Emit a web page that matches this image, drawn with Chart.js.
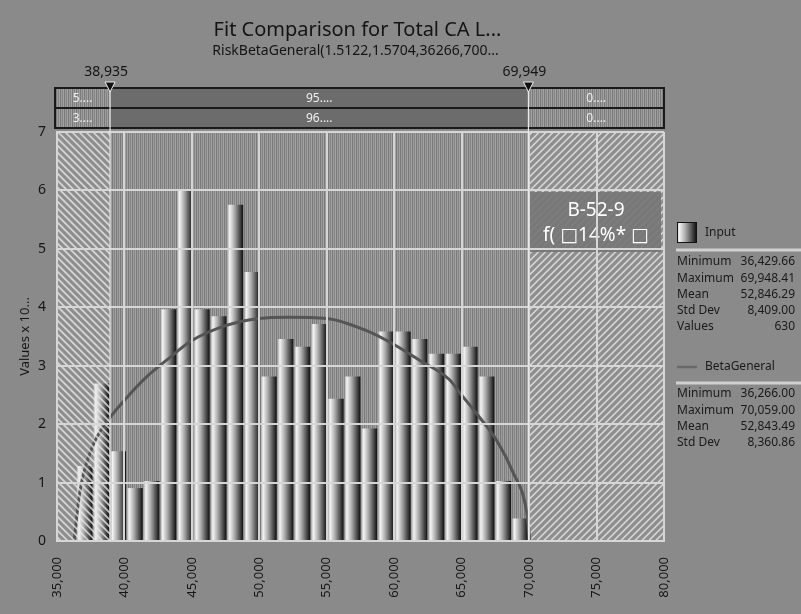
<!DOCTYPE html>
<html><head><meta charset="utf-8">
<script src="https://cdn.jsdelivr.net/npm/chart.js@4"></script>
<style>html,body{margin:0;padding:0;background:#8a8a8a}canvas{display:block}</style>
</head><body>
<div style="width:801px;height:614px"><canvas id="c" width="801" height="614"></canvas></div>
<script>
// ---- data ----
const binCenters = [37050, 38292, 39533, 40775, 42016, 43258, 44499, 45740, 46982, 48223, 49465, 50706, 51948, 53189, 54430, 55672, 56913, 58155, 59396, 60638, 61879, 63121, 64362, 65603, 66845, 68086, 69328];
const inputDensity = [1.28, 2.69, 1.53, 0.90, 1.02, 3.96, 6.01, 3.96, 3.84, 5.75, 4.60, 2.81, 3.45, 3.32, 3.71, 2.43, 2.81, 1.92, 3.58, 3.58, 3.45, 3.20, 3.20, 3.32, 2.81, 1.02, 0.38];
const fitX = [36266, 36700, 37600, 38860, 40120, 41600, 43100, 45000, 47550, 50000, 52200, 55000, 57950, 59850, 61900, 64100, 64850, 66350, 67600, 68800, 69800, 70059];
const fitY = [0, 0.85, 1.60, 2.09, 2.44, 2.80, 3.09, 3.43, 3.69, 3.81, 3.83, 3.81, 3.60, 3.38, 3.09, 2.76, 2.54, 2.11, 1.72, 1.18, 0.52, 0];
const xTickValues = [35000, 40000, 45000, 50000, 55000, 60000, 65000, 70000, 75000, 80000];
const yTickValues = [0, 1, 2, 3, 4, 5, 6, 7];
const markerValues = [38935, 69949];
const markerLabels = ['38,935', '69,949'];
const bandRow1 = ['5....', '95....', '0....'];
const bandRow2 = ['3....', '96....', '0....'];
const titleText = 'Fit Comparison for Total CA L...';
const subtitleText = 'RiskBetaGeneral(1.5122,1.5704,36266,700...';
const yTitleText = 'Values x 10...';
const overlayLines = ['B-52-9', 'f( \u25A114%* \u25A1'];
const inputName = 'Input';
const inputStatLabels = ['Minimum', 'Maximum', 'Mean', 'Std Dev', 'Values'];
const inputStatValues = ['36,429.66', '69,948.41', '52,846.29', '8,409.00', '630'];
const fitName = 'BetaGeneral';
const fitStatLabels = ['Minimum', 'Maximum', 'Mean', 'Std Dev'];
const fitStatValues = ['36,266.00', '70,059.00', '52,843.49', '8,360.86'];

const FONT = "'Noto Sans', 'DejaVu Sans', sans-serif";

function barGradient(g) {
  g.addColorStop(0, '#b8b8b8');
  g.addColorStop(0.12, '#f4f4f4');
  g.addColorStop(0.45, '#a8a8a8');
  g.addColorStop(0.8, '#4a4a4a');
  g.addColorStop(1, '#141414');
  return g;
}

function stripePattern(ctx) {
  const off = document.createElement('canvas');
  off.width = 4; off.height = 4;
  const o = off.getContext('2d');
  const cols = ['#7a7a7a', '#9c9c9c', '#848484', '#a2a2a2'];
  for (let i = 0; i < 4; i++) { o.fillStyle = cols[i]; o.fillRect(i, 0, 1, 4); }
  return ctx.createPattern(off, 'repeat');
}

function hatch(c, x0, y0, x1, y1, dir) {
  c.save();
  c.beginPath(); c.rect(x0, y0, x1 - x0, y1 - y0); c.clip();
  c.strokeStyle = 'rgba(232,232,232,0.8)';
  c.lineWidth = 1.6;
  const h = y1 - y0;
  for (let s = x0 - h - 10; s < x1 + h + 10; s += 7) {
    c.beginPath();
    if (dir > 0) { c.moveTo(s, y1); c.lineTo(s + h, y0); }
    else { c.moveTo(s, y0); c.lineTo(s + h, y1); }
    c.stroke();
  }
  c.restore();
}

const decor = {
  id: 'decor',
  beforeDraw(chart) {
    const c = chart.ctx;
    c.save();
    c.fillStyle = '#8a8a8a';
    c.fillRect(0, 0, chart.width, chart.height);
    c.restore();
  },
  beforeDatasetsDraw(chart) {
    const c = chart.ctx, a = chart.chartArea, xs = chart.scales.x;
    const m0 = xs.getPixelForValue(markerValues[0]), m1 = xs.getPixelForValue(markerValues[1]);
    c.save();
    c.fillStyle = '#8e8e8e';
    c.fillRect(a.left, a.top, a.right - a.left, a.bottom - a.top);
    c.fillStyle = stripePattern(c);
    c.fillRect(m0, a.top, m1 - m0, a.bottom - a.top);
    c.restore();
    hatch(chart.ctx, m1, a.top, a.right, a.bottom, 1);
  },
  afterDatasetsDraw(chart) {
    const c = chart.ctx, a = chart.chartArea, xs = chart.scales.x;
    const m0 = xs.getPixelForValue(markerValues[0]);
    hatch(c, a.left, a.top, m0, a.bottom, -1);
    // overlay box
    c.save();
    c.fillStyle = 'rgba(118,118,118,0.92)';
    c.fillRect(530, 192, 131, 60);
    c.fillStyle = '#ffffff';
    c.textAlign = 'center'; c.textBaseline = 'middle';
    c.font = '19px ' + FONT;
    c.fillText(overlayLines[0], 596, 211);
    c.fillText(overlayLines[1], 596, 236);
    c.restore();
  },
  afterDraw(chart) {
    const c = chart.ctx, a = chart.chartArea, xs = chart.scales.x;
    const mx = markerValues.map(v => xs.getPixelForValue(v));
    const cx = (a.left + a.right) / 2;
    c.save();
    // titles
    c.fillStyle = '#141414';
    c.textAlign = 'center'; c.textBaseline = 'middle';
    c.font = '20px ' + FONT;
    c.fillText(titleText, cx - 3, 30);
    c.font = '14px ' + FONT;
    c.fillText(subtitleText, cx - 5, 51);
    // band
    const bl = a.left - 2, br = a.right;
    const rows = [[88, 108, bandRow1], [108, 128, bandRow2]];
    rows.forEach(([t, b, labels]) => {
      const segs = [[bl, mx[0]], [mx[0], mx[1]], [mx[1], br]];
      segs.forEach(([l, r], i) => {
        if (i === 1) { c.fillStyle = '#6c6c6c'; c.fillRect(l, t, r - l, b - t); }
        else { c.fillStyle = stripePattern(c); c.fillRect(l, t, r - l, b - t); }
        c.fillStyle = '#f0f0f0';
        c.font = '12px ' + FONT;
        c.textAlign = 'center';
        c.fillText(labels[i], (l + r) / 2, (t + b) / 2 + 1);
      });
      c.strokeStyle = '#1a1a1a'; c.lineWidth = 2;
      c.strokeRect(bl, t, br - bl, b - t);
    });
    // marker lines, triangles, labels
    mx.forEach((x, i) => {
      c.strokeStyle = '#e8e8e8'; c.lineWidth = 1.2;
      c.beginPath(); c.moveTo(x, 86); c.lineTo(x, a.bottom); c.stroke();
      c.beginPath(); c.moveTo(x - 5, 82); c.lineTo(x + 5, 82); c.lineTo(x, 92); c.closePath();
      c.fillStyle = '#111'; c.fill();
      c.strokeStyle = '#f0f0f0'; c.lineWidth = 1; c.stroke();
      c.fillStyle = '#141414'; c.font = '14px ' + FONT; c.textAlign = 'center';
      c.fillText(markerLabels[i], x - 4, 72);
    });
    // legend
    const lx = 677, rx = 795;
    const g = barGradient(c.createLinearGradient(677, 0, 696, 0));
    c.fillStyle = g; c.fillRect(677, 222, 19, 20);
    c.strokeStyle = '#111'; c.lineWidth = 1; c.strokeRect(677.5, 222.5, 19, 20);
    c.fillStyle = '#1a1a1a'; c.font = '12px ' + FONT; c.textAlign = 'left';
    c.fillText(inputName, 705, 233);
    c.strokeStyle = '#d0d0d0'; c.lineWidth = 3;
    c.beginPath(); c.moveTo(676, 250); c.lineTo(801, 250); c.stroke();
    inputStatLabels.forEach((l, i) => {
      const y = 262 + i * 16.2;
      c.fillStyle = '#1a1a1a'; c.textAlign = 'left'; c.fillText(l, lx, y);
      c.textAlign = 'right'; c.fillText(inputStatValues[i], rx, y);
    });
    c.strokeStyle = '#6a6a6a'; c.lineWidth = 2.5;
    c.beginPath(); c.moveTo(677, 367); c.lineTo(697, 367); c.stroke();
    c.fillStyle = '#1a1a1a'; c.textAlign = 'left'; c.fillText(fitName, 705, 367);
    c.strokeStyle = '#d0d0d0'; c.lineWidth = 3;
    c.beginPath(); c.moveTo(676, 383); c.lineTo(801, 383); c.stroke();
    fitStatLabels.forEach((l, i) => {
      const y = 394 + i * 16.3;
      c.fillStyle = '#1a1a1a'; c.textAlign = 'left'; c.fillText(l, lx, y);
      c.textAlign = 'right'; c.fillText(fitStatValues[i], rx, y);
    });
    c.restore();
  }
};

const ctx = document.getElementById('c').getContext('2d');
new Chart(ctx, {
  type: 'bar',
  data: {
    datasets: [
      {
        type: 'bar',
        label: inputName,
        data: binCenters.map((x, i) => ({ x: x, y: inputDensity[i] })),
        barThickness: 15,
        borderWidth: 0,
        backgroundColor: (context) => {
          const chart = context.chart, xs = chart.scales && chart.scales.x;
          if (!xs || context.type !== 'data') return '#999';
          const px = xs.getPixelForValue(binCenters[context.dataIndex]);
          if (!isFinite(px)) return '#999';
          return barGradient(chart.ctx.createLinearGradient(px - 7.5, 0, px + 7.5, 0));
        },
        order: 2
      },
      {
        type: 'line',
        label: fitName,
        data: fitX.map((x, i) => ({ x: x, y: fitY[i] })),
        borderColor: '#555555',
        borderWidth: 3,
        pointRadius: 0,
        fill: false,
        cubicInterpolationMode: 'monotone',
        order: 1
      }
    ]
  },
  options: {
    responsive: false,
    devicePixelRatio: 1,
    animation: false,
    layout: { padding: { left: 0, right: 137, top: 132, bottom: 0 } },
    plugins: { legend: { display: false }, tooltip: { enabled: false }, title: { display: false } },
    scales: {
      x: {
        type: 'linear',
        min: 35000, max: 80000,
        offset: false,
        afterBuildTicks: (s) => { s.ticks = xTickValues.map(v => ({ value: v })); },
        afterFit: (s) => { s.height = 73; },
        ticks: {
          autoSkip: false,
          minRotation: 90, maxRotation: 90,
          padding: 16,
          color: '#161616',
          font: { family: FONT, size: 13 },
          callback: (v) => Number(v).toLocaleString('en-US')
        },
        grid: { color: '#d6d6d6', lineWidth: 2, drawTicks: false, offset: false, z: 1 },
        border: { display: true, color: '#d6d6d6', width: 2, z: 1 }
      },
      y: {
        min: 0, max: 7,
        afterBuildTicks: (s) => { s.ticks = yTickValues.map(v => ({ value: v })); },
        afterFit: (s) => { s.width = 57; },
        ticks: { padding: 11, color: '#161616', font: { family: FONT, size: 14 } },
        grid: { color: '#d6d6d6', lineWidth: 2, drawTicks: false, z: 1 },
        border: { display: true, color: '#d6d6d6', width: 2, z: 1 },
        title: { display: true, text: yTitleText, color: '#161616', font: { family: FONT, size: 13 }, padding: { top: 17, bottom: 0 } }
      }
    }
  },
  plugins: [decor]
});
</script>
</body></html>
